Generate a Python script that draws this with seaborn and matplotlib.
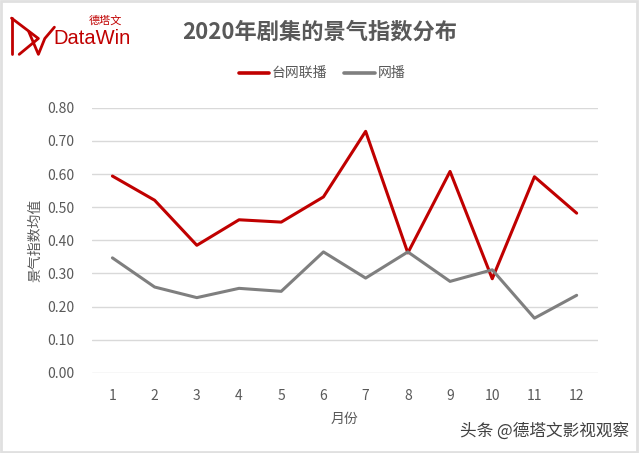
import matplotlib
matplotlib.use("Agg")
import matplotlib.pyplot as plt
import seaborn as sns
import pandas as pd
from matplotlib.patches import Rectangle
from matplotlib.lines import Line2D

months = list(range(1, 13))
tv_web = [0.594, 0.521, 0.385, 0.462, 0.455, 0.531, 0.729, 0.362, 0.608, 0.284, 0.592, 0.482]
web_only = [0.347, 0.259, 0.227, 0.255, 0.246, 0.365, 0.286, 0.365, 0.276, 0.311, 0.165, 0.234]
series_names = ["台网联播", "网播"]
yticks = [0.0, 0.1, 0.2, 0.3, 0.4, 0.5, 0.6, 0.7, 0.8]

df = pd.DataFrame({
    "月份": months * 2,
    "值": tv_web + web_only,
    "系列": [series_names[0]] * 12 + [series_names[1]] * 12,
})

sns.set_theme(style="white")
plt.rcParams['font.family'] = ['Noto Sans CJK SC', 'DejaVu Sans']
plt.rcParams['axes.unicode_minus'] = False

fig = plt.figure(figsize=(6.4, 4.53), dpi=100)
fig.patch.set_facecolor("white")
ax = fig.add_axes([0.144, 0.177, 0.790, 0.585])
ax.set_facecolor("white")

palette = {series_names[0]: "#C00000", series_names[1]: "#7F7F7F"}
sns.lineplot(data=df, x="月份", y="值", hue="系列", palette=palette, linewidth=2.2,
             ax=ax, legend=False)

ax.set_xlim(0.52, 12.5)
ax.set_ylim(0, 0.8)
ax.set_yticks(yticks)
ax.set_yticklabels([f"{v:.2f}" for v in yticks], color="#595959", fontsize=10)
ax.set_xticks(months)
ax.set_xticklabels([str(m) for m in months], color="#595959", fontsize=10)
ax.tick_params(axis="y", length=0, pad=13)
ax.tick_params(axis="x", length=0, pad=12)
ax.yaxis.grid(True, color="#D9D9D9", linewidth=1)
ax.xaxis.grid(False)
for s in ax.spines.values():
    s.set_visible(False)
ax.set_axisbelow(True)
ax.set_xlabel("月份", color="#595959", fontsize=10, labelpad=6)
ax.set_ylabel("景气指数均值", color="#595959", fontsize=10, labelpad=3)

fig.text(0.5, 0.93, "2020年剧集的景气指数分布", ha="center", va="center",
         fontsize=16, fontweight="bold", color="#595959")

handles = [Line2D([0], [0], color=palette[n], lw=2.6) for n in series_names]
fig.legend(handles, series_names, loc="center", bbox_to_anchor=(0.503, 0.838), ncol=2,
           frameon=False, fontsize=10, handlelength=2.2, handletextpad=0.2,
           columnspacing=1.2, labelcolor="#595959")

# logo
fig.text(0.084, 0.914, "DataWin", color="#C00000", fontsize=14.5, ha="left", va="center",
         family=["Liberation Sans", "DejaVu Sans"])
fig.text(0.138, 0.955, "德塔文", color="#C00000", fontsize=8, ha="left", va="center")
fig.add_artist(Line2D([0.018, 0.018], [0.88, 0.96], color="#C00000", lw=2, transform=fig.transFigure))
fig.add_artist(Line2D([0.018, 0.06, 0.03], [0.96, 0.915, 0.88], color="#C00000", lw=2, transform=fig.transFigure))
fig.add_artist(Line2D([0.045, 0.06, 0.07, 0.085], [0.93, 0.88, 0.915, 0.94], color="#C00000", lw=2, transform=fig.transFigure))

# watermark
fig.text(0.851, 0.048, "头条 @德塔文影视观察", color="#404040", fontsize=12, ha="center", va="center")

fig.add_artist(Rectangle((0.002, 0.003), 0.994, 0.994, transform=fig.transFigure,
                         fill=False, edgecolor="#E0E0E0", linewidth=2))

fig.savefig("out.png", dpi=100, facecolor="white")
